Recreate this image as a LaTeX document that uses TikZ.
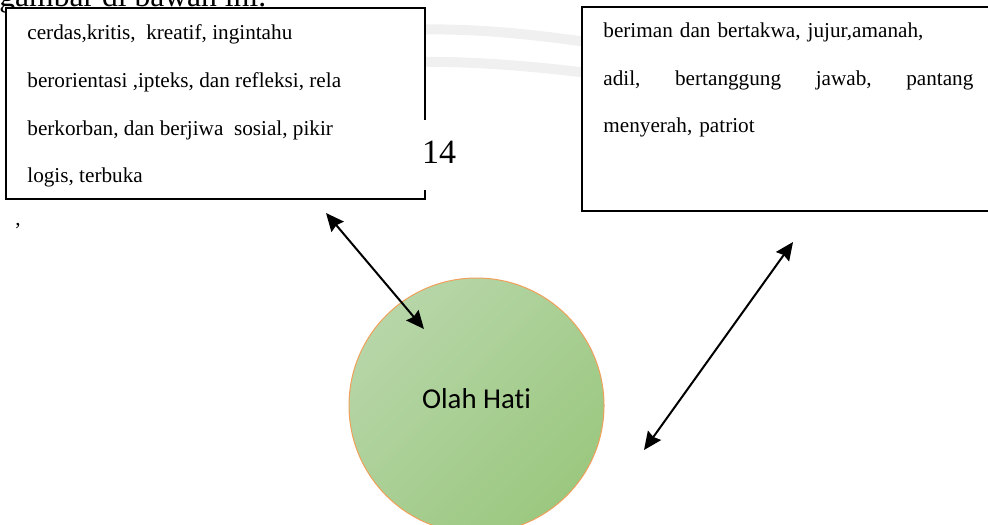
\documentclass[tikz,border=0pt]{standalone}
\usepackage{fontspec}
\setmainfont{Liberation Serif}
\newfontfamily\calibri[Ligatures=NoCommon]{Carlito}
\usepackage{tikz}
\usetikzlibrary{arrows.meta,positioning}
\definecolor{hatiL}{RGB}{183,214,168}
\definecolor{hatiD}{RGB}{155,200,128}
\definecolor{hatiO}{RGB}{240,160,90}

\begin{document}
\begin{tikzpicture}[x=0.5pt, y=-0.5pt, >={Stealth[length=9pt,width=8pt,inset=1pt]},
  tx/.style={anchor=north west, inner sep=0pt, align=left,
             font=\fontsize{10.6}{23.8}\selectfont},
  bx/.style={draw=black, line width=0.9pt},
  ar/.style={<->, line width=1pt},
  wm/.style={gray!12, line width=5pt, line cap=round}]
  \useasboundingbox (0,0) rectangle (988,524);
  \clip (0,0) rectangle (988,524);
  % cut-off line of the page text and the watermark behind the boxes
  \node[anchor=base west, inner sep=0pt, font=\fontsize{15.8}{18}\selectfont] (pg) at (-1,7) {gambar di bawah ini.};
  \draw[wm] (400,30) .. controls (500,26) and (580,42) .. (660,52);
  \draw[wm] (400,62) .. controls (500,60) and (580,72) .. (660,82);
  % left box (right edge broken by the page number)
  \fill[white] (6,8) rectangle (425,199);
  \draw[bx] (425,120) -- (425,8) -- (6,8) -- (6,199) -- (425,199) -- (425,190);
  \node[tx] (lt) at (27,24.5) {cerdas,kritis,\ \ kreatif, ingintahu\\
    berorientasi ,ipteks, dan refleksi, rela\\
    berkorban, dan berjiwa\ \ sosial, pikir\\
    logis, terbuka};
  \node[anchor=base, inner sep=0pt, font=\fontsize{17}{20}\selectfont] (pn) at (439,163) {14};
  \node[anchor=base, inner sep=0pt, font=\fontsize{10.6}{12}\selectfont] (cm) at (18,225) {,};
  % right box
  \draw[bx, fill=white] (582,7) rectangle (990,211);
  \node[tx, text width=185pt] (rt) at (603,22.5) {beriman dan bertakwa, jujur,amanah,\\
    \makebox[185pt][l]{adil,\hfill bertanggung\hfill jawab,\hfill pantang}\\
    menyerah, patriot};
  % circle
  \node[circle, minimum size=127.5pt, draw=hatiO, line width=0.5pt,
        shading=axis, top color=hatiL, bottom color=hatiD, shading angle=45,
        font=\calibri\fontsize{14.4}{16}\selectfont] (hati) at (476.5,405.5)
        {\raisebox{7.5pt}{Olah Hati}};
  % arrows
  \coordinate (l1) at (326,213); \coordinate (l2) at (424,329);
  \coordinate (r1) at (793,242); \coordinate (r2) at (644,450);
  \draw[ar] (l1) -- (l2);
  \draw[ar] (r1) -- (r2);
\end{tikzpicture}
\end{document}
